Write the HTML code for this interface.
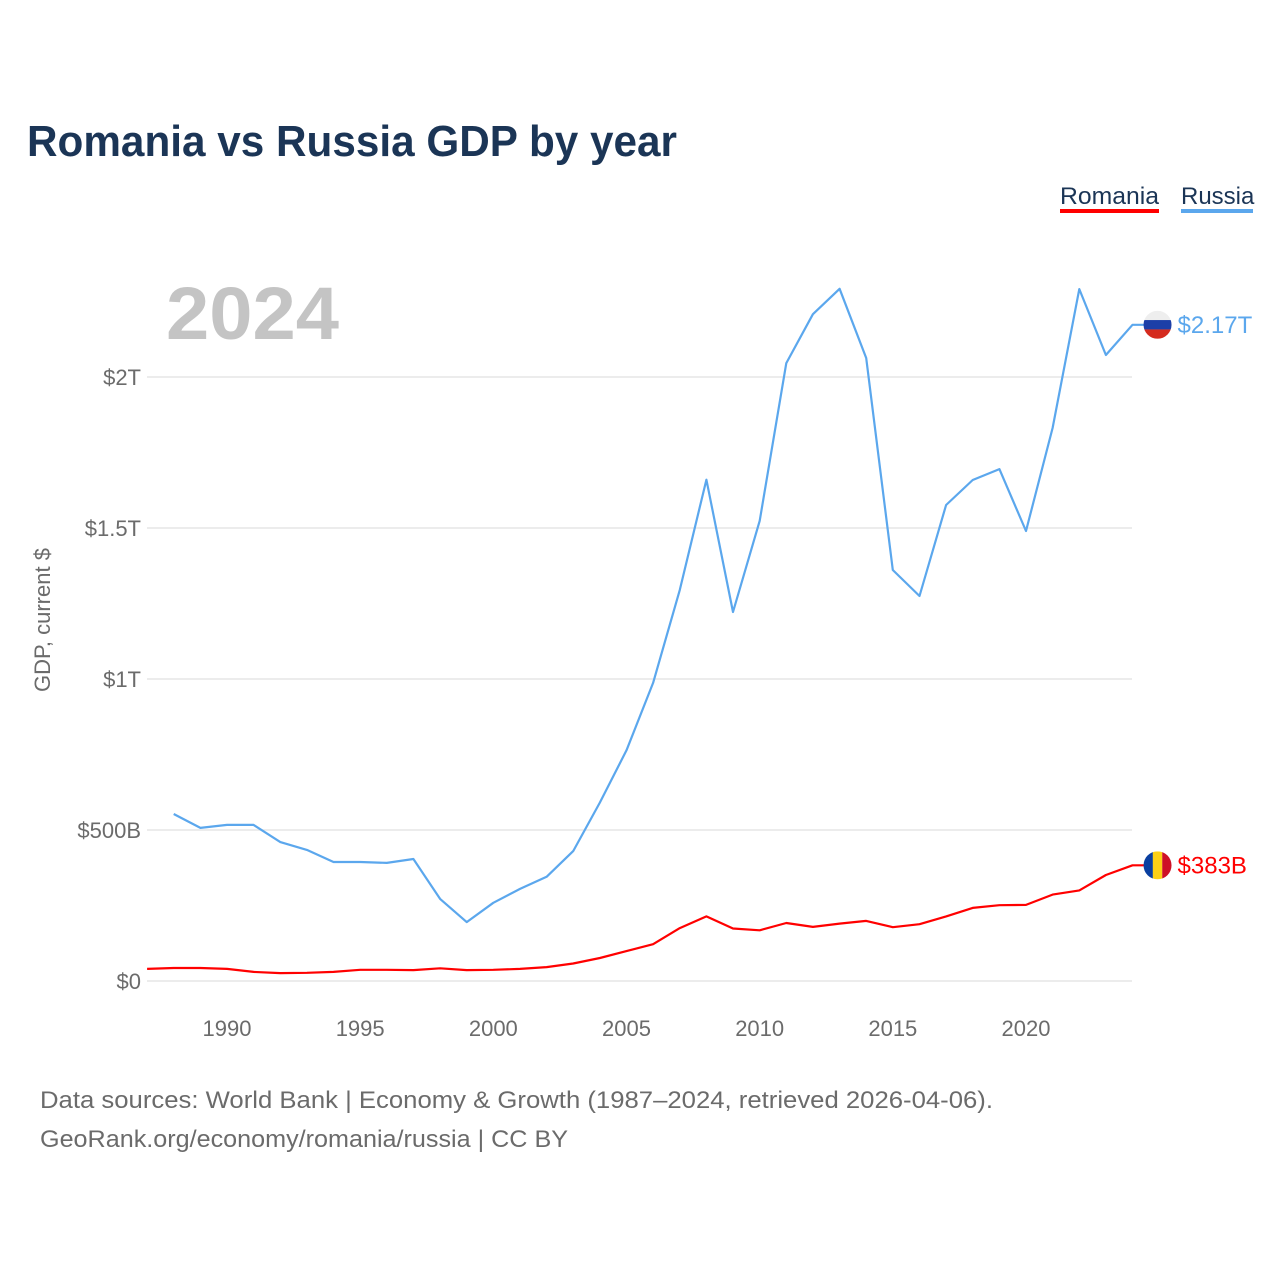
<!DOCTYPE html>
<html><head><meta charset="utf-8"><style>
body{margin:0;background:#fff;font-family:"Liberation Sans",sans-serif}
</style></head><body>
<svg width="1280" height="1280" viewBox="0 0 1280 1280" xmlns="http://www.w3.org/2000/svg">
<rect width="1280" height="1280" fill="#fff"/>
<text x="27" y="156" font-size="44" font-weight="bold" fill="#1b3556" textLength="650" lengthAdjust="spacingAndGlyphs">Romania vs Russia GDP by year</text>
<g>
<text x="1060" y="204" font-size="24" fill="#1b3556" textLength="99" lengthAdjust="spacingAndGlyphs">Romania</text>
<rect x="1060" y="209" width="99" height="4" fill="#ff0000"/>
<text x="1181" y="204" font-size="24" fill="#1b3556">Russia</text>
<rect x="1181" y="209" width="72" height="4" fill="#5ba7ed"/>
</g>
<text x="166" y="339" font-size="74" font-weight="bold" fill="#c4c4c4" textLength="173" lengthAdjust="spacingAndGlyphs">2024</text>
<g id="grid"></g><g id="axes"></g><g id="lines"></g>
<text transform="translate(50,620) rotate(-90)" text-anchor="middle" font-size="22" fill="#6b6b6b">GDP, current $</text>
<text x="40" y="1108" font-size="24" fill="#6b6b6b" textLength="953" lengthAdjust="spacingAndGlyphs">Data sources: World Bank | Economy &amp; Growth (1987–2024, retrieved 2026-04-06).</text>
<text x="40" y="1147" font-size="24" fill="#6b6b6b" textLength="528" lengthAdjust="spacingAndGlyphs">GeoRank.org/economy/romania/russia | CC BY</text>
</svg>
<script>
const years=[];for(let y=1987;y<=2024;y++)years.push(y);
const russia=[null,553,507,517,517,460,434,394,394,391,404,272,195,259,305,345,430,591,764,987,1295,1660,1222,1524,2046,2208,2292,2063,1361,1275,1576,1659,1695,1490,1831,2291,2073,2173];
const romania=[40,43,43,40,30,26,27,30,37,37,36,42,36,37,40,46,58,76,99,122,175,214,174,168,192,179,190,199,178,188,214,242,251,252,286,300,351,383];
const yTicks=[0,500,1000,1500,2000];
const yTickLabels=["$0","$500B","$1T","$1.5T","$2T"];
const xTicks=[1990,1995,2000,2005,2010,2015,2020];
const NS="http://www.w3.org/2000/svg";
const X=y=>227+(y-1990)*(1026-227)/30;
const Y=v=>981-v*(981-377)/2000;
function mk(t,a,p){const e=document.createElementNS(NS,t);for(const k in a)e.setAttribute(k,a[k]);p.appendChild(e);return e;}
const grid=document.getElementById('grid'),axes=document.getElementById('axes'),lines=document.getElementById('lines');
yTicks.forEach((v,i)=>{
 const l=mk('line',{x1:147,x2:1132,y1:Y(v),y2:Y(v),stroke:'#e6e6e6','stroke-width':1.5},grid);
 
 
 const t=mk('text',{x:141,y:Y(v)+8,'text-anchor':'end','font-size':22,fill:'#6b6b6b'},axes);
 t.textContent=yTickLabels[i];
 
 
});
xTicks.forEach(y=>{
 const t=mk('text',{x:X(y),y:1036,'text-anchor':'middle','font-size':22,fill:'#6b6b6b'},axes);
 t.textContent=y;
 
 
});
function path(vals,color,name){
 let d='';vals.forEach((v,i)=>{if(v==null)return;d+=(d?'L':'M')+X(years[i]).toFixed(1)+','+Y(v).toFixed(1);});
 d+='h12';
 const p=mk('path',{d:d,fill:'none',stroke:color,'stroke-width':2.2,'stroke-linejoin':'round'},lines);
 
 
}
path(russia,'#5ba7ed','russia-line');
path(romania,'#ff0000','romania-line');
const lx=X(2024)+25;
const ry=Y(russia[russia.length-1]);
const cp=mk('clipPath',{id:'cr'},lines);mk('circle',{cx:lx,cy:ry,r:14},cp);
const cp2=mk('clipPath',{id:'cro'},lines);mk('circle',{cx:lx,cy:Y(romania[romania.length-1]),r:14},cp2);
const fr=mk('g',{'clip-path':'url(#cr)'},lines);


mk('rect',{x:lx-14,y:ry-14,width:28,height:9.4,fill:'#eee'},fr);
mk('rect',{x:lx-14,y:ry-4.7,width:28,height:9.4,fill:'#1c3fa8'},fr);
mk('rect',{x:lx-14,y:ry+4.7,width:28,height:9.4,fill:'#d52b1e'},fr);
const oy=Y(romania[romania.length-1]);
const fo=mk('g',{'clip-path':'url(#cro)'},lines);


mk('rect',{x:lx-14,y:oy-14,width:9.4,height:28,fill:'#0a3fa0'},fo);
mk('rect',{x:lx-4.7,y:oy-14,width:9.4,height:28,fill:'#fcd116'},fo);
mk('rect',{x:lx+4.7,y:oy-14,width:9.4,height:28,fill:'#ce1126'},fo);
const t1=mk('text',{x:lx+20,y:ry+8,'font-size':24,fill:'#5ba7ed'},lines);t1.textContent='$2.17T';


const t2=mk('text',{x:lx+20,y:oy+8,'font-size':24,fill:'#ff0000'},lines);t2.textContent='$383B';


</script>
</body></html>
